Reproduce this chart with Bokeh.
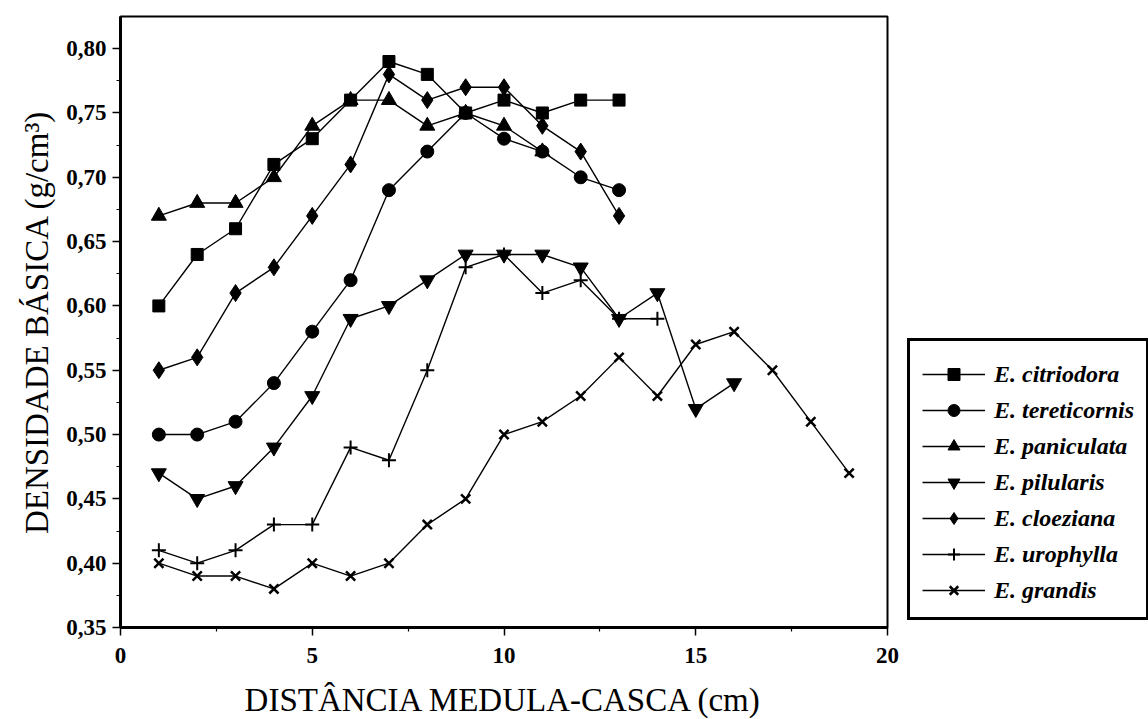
from bokeh.plotting import figure
from bokeh.models import (Range1d, FixedTicker, Legend, LegendItem)
from bokeh.embed import file_html
from bokeh.resources import INLINE

# Basic density (g/cm3) along the pith-to-bark distance (cm)
dist_13 = [1, 2, 3, 4, 5, 6, 7, 8, 9, 10, 11, 12, 13]
citriodora = [0.60, 0.64, 0.66, 0.71, 0.73, 0.76, 0.79, 0.78, 0.75, 0.76, 0.75, 0.76, 0.76]
tereticornis = [0.50, 0.50, 0.51, 0.54, 0.58, 0.62, 0.69, 0.72, 0.75, 0.73, 0.72, 0.70, 0.69]
cloeziana = [0.55, 0.56, 0.61, 0.63, 0.67, 0.71, 0.78, 0.76, 0.77, 0.77, 0.74, 0.72, 0.67]

dist_11 = [1, 2, 3, 4, 5, 6, 7, 8, 9, 10, 11]
paniculata = [0.67, 0.68, 0.68, 0.70, 0.74, 0.76, 0.76, 0.74, 0.75, 0.74, 0.72]

dist_16 = [1, 2, 3, 4, 5, 6, 7, 8, 9, 10, 11, 12, 13, 14, 15, 16]
pilularis = [0.47, 0.45, 0.46, 0.49, 0.53, 0.59, 0.60, 0.62, 0.64, 0.64, 0.64, 0.63, 0.59, 0.61, 0.52, 0.54]

dist_14 = [1, 2, 3, 4, 5, 6, 7, 8, 9, 10, 11, 12, 13, 14]
urophylla = [0.41, 0.40, 0.41, 0.43, 0.43, 0.49, 0.48, 0.55, 0.63, 0.64, 0.61, 0.62, 0.59, 0.59]

dist_19 = [1, 2, 3, 4, 5, 6, 7, 8, 9, 10, 11, 12, 13, 14, 15, 16, 17, 18, 19]
grandis = [0.40, 0.39, 0.39, 0.38, 0.40, 0.39, 0.40, 0.43, 0.45, 0.50, 0.51, 0.53, 0.56, 0.53, 0.57, 0.58, 0.55, 0.51, 0.47]

y_ticks = [0.35, 0.40, 0.45, 0.50, 0.55, 0.60, 0.65, 0.70, 0.75, 0.80]
y_tick_labels = ["0,35", "0,40", "0,45", "0,50", "0,55", "0,60", "0,65", "0,70", "0,75", "0,80"]
x_ticks = [0, 5, 10, 15, 20]

SERIF = "Liberation Serif"

p = figure(frame_width=767, frame_height=611, output_backend="svg", toolbar_location=None,
           x_range=Range1d(0, 20), y_range=Range1d(0.35, 0.825),
           min_border_left=120, min_border_right=261,
           min_border_top=16, min_border_bottom=92)
p.grid.visible = False
p.outline_line_color = "black"
p.outline_line_width = 2
p.outline_line_alpha = 1
p.background_fill_color = "white"
p.border_fill_color = "white"

series = [
    ("E. citriodora", dist_13, citriodora, "square", 12, 0),
    ("E. tereticornis", dist_13, tereticornis, "circle", 13, 0),
    ("E. paniculata", dist_11, paniculata, "triangle", 15, 0),
    ("E. pilularis", dist_16, pilularis, "inverted_triangle", 15, 0),
    ("E. cloeziana", dist_13, cloeziana, "diamond", 17, 0),
    ("E. urophylla", dist_14, urophylla, "cross", 14, 2),
    ("E. grandis", dist_19, grandis, "x", 13, 2.5),
]

items = []
for label, xs, ys, marker, size, lw in series:
    lr = p.line(xs, ys, line_color="black", line_width=1.4)
    sr = p.scatter(xs, ys, marker=marker, size=size, fill_color="black",
                   line_color="black", line_width=lw if lw else 1)
    items.append(LegendItem(label=label, renderers=[lr, sr]))

# legend box in the right-hand panel, a little above the bottom of the frame;
# the blank title only adds a few pixels of room above the first row
legend = Legend(items=items, location=(20, 7), margin=0,
                title=" ", title_text_font_size="6px", title_standoff=0,
                glyph_width=63, glyph_height=30, label_height=30, spacing=6,
                padding=12, label_standoff=9,
                label_text_font=SERIF, label_text_font_style="bold italic",
                label_text_font_size="24px", label_text_color="black",
                border_line_color="black", border_line_width=3, border_line_alpha=1,
                background_fill_color="white", background_fill_alpha=1)
p.add_layout(legend, "right")

# axes
for ax in (p.xaxis[0], p.yaxis[0]):
    ax.axis_line_width = 3
    ax.axis_line_color = "black"
    ax.major_tick_line_color = "black"
    ax.major_tick_line_width = 1.5
    ax.minor_tick_line_color = "black"
    ax.minor_tick_line_width = 1.2
    ax.major_tick_out = 8
    ax.major_tick_in = 0
    ax.minor_tick_out = 4
    ax.minor_tick_in = 0
    ax.major_label_text_font = SERIF
    ax.major_label_text_font_style = "bold"
    ax.major_label_text_font_size = "23px"
    ax.major_label_text_color = "black"
    ax.axis_label_text_font = SERIF
    ax.axis_label_text_font_style = "normal"
    ax.axis_label_text_font_size = "33px"
    ax.axis_label_text_color = "black"

p.yaxis.ticker = FixedTicker(ticks=y_ticks,
                             minor_ticks=[v + 0.025 for v in y_ticks[:-1]])
p.yaxis.major_label_overrides = dict(zip(y_ticks, y_tick_labels))
p.yaxis.axis_label = "DENSIDADE BÁSICA (g/cm³)"
p.yaxis.major_label_standoff = 6
p.yaxis.axis_label_standoff = 8

p.xaxis.ticker = FixedTicker(ticks=x_ticks,
                             minor_ticks=[v + 2.5 for v in x_ticks[:-1]])
p.xaxis.axis_label = "DISTÂNCIA MEDULA-CASCA (cm)"
p.xaxis.major_label_standoff = 12
p.xaxis.axis_label_standoff = 16

open("out.html", "w").write(file_html(p, INLINE))
